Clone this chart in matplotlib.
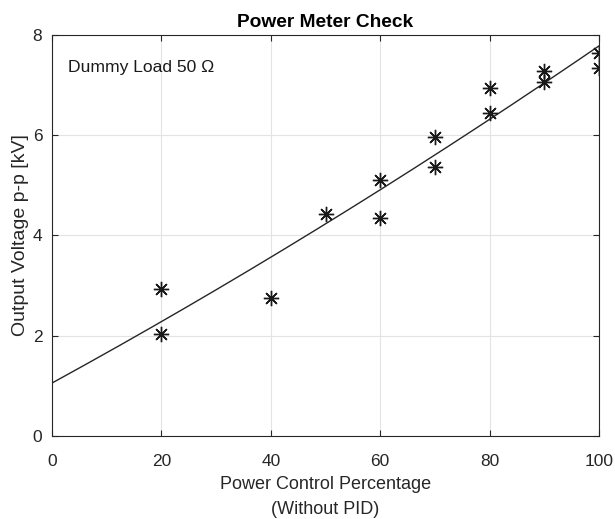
import matplotlib
matplotlib.use("Agg")
import matplotlib.pyplot as plt
import numpy as np

plt.rcParams['font.family'] = ['Liberation Sans', 'DejaVu Sans']

# measured points: power control setting [%] vs output voltage p-p [kV]
power_pct = [20, 20, 40, 50, 60, 60, 70, 70, 80, 80, 90, 90, 100, 100]
volt_kv = [2.93, 2.04, 2.75, 4.42, 5.11, 4.35, 5.97, 5.37, 6.94, 6.44, 7.29, 7.07, 7.65, 7.35]

# quadratic fit of the measurements
coef = np.polyfit(power_pct, volt_kv, 2)
xf = np.linspace(0, 100, 200)
yf = np.polyval(coef, xf)

fig = plt.figure(figsize=(6.15, 5.19), dpi=100)
ax = fig.add_axes([0.0846, 0.160, 0.8894, 0.7726])

ax.plot(xf, yf, color='#262626', lw=1.0)
ax.plot(power_pct, volt_kv, ls='none', marker=(8, 2, 0), ms=11, mew=1.0, color='#1a1a1a')

ax.set_xlim(0, 100)
ax.set_ylim(0, 8)
ax.set_xticks([0, 20, 40, 60, 80, 100])
ax.set_yticks([0, 2, 4, 6, 8])
ax.grid(True, color='#e3e3e3', lw=0.8)
ax.set_axisbelow(True)
ax.tick_params(direction='in', top=True, right=True, length=4, width=0.8,
               colors='#262626', labelsize=12.5)
ax.tick_params(axis='x', pad=13)
ax.tick_params(axis='y', pad=7)
for s in ax.spines.values():
    s.set_color('#262626')
    s.set_linewidth(0.8)

ax.set_title('Power Meter Check', fontsize=13.8, fontweight='bold', pad=6)
ax.set_xlabel('Power Control Percentage\n(Without PID)', fontsize=13, linespacing=1.6,
              color='#262626', labelpad=5)
ax.set_ylabel('Output Voltage p-p [kV]', fontsize=14, color='#262626', labelpad=3)
ax.text(3, 7.36, 'Dummy Load 50 Ω', fontsize=12.6, va='center', ha='left', color='#1a1a1a')

fig.savefig('out.png', dpi=100)
